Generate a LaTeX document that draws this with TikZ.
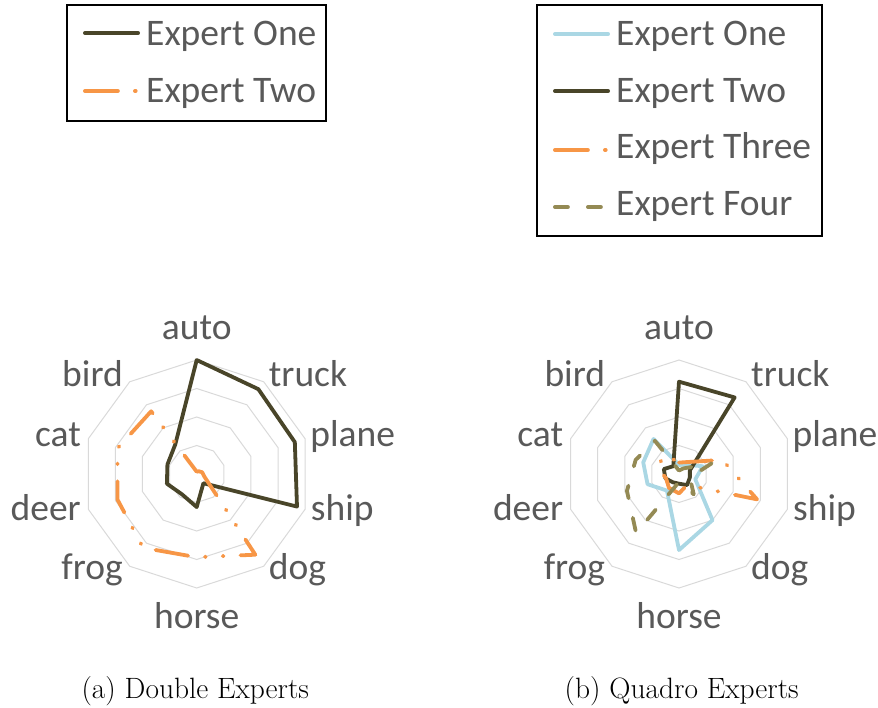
\documentclass[tikz,border=0pt]{standalone}
\usepackage{fontspec}
\newfontfamily\calib{Carlito}
\usetikzlibrary{calc}
\definecolor{expdark}{RGB}{73,69,41}
\definecolor{exporange}{RGB}{247,150,70}
\definecolor{expblue}{RGB}{170,215,228}
\definecolor{expolive}{RGB}{148,138,84}
\definecolor{gridgray}{RGB}{217,217,217}
\definecolor{labelgray}{RGB}{89,89,89}

% one radar series: name, style, ten values (auto, truck, plane, ship, dog, horse, frog, deer, cat, bird)
\newcommand\radarseries[3]{%
  \foreach \v [count=\i from 0] in {#3}
    \coordinate (#1-\i) at ({90-36*\i}:{\v*114pt});
  \draw[#2] (#1-0) \foreach \i in {1,...,9} { -- (#1-\i) } -- cycle;
}
% grid rings and category labels of one radar chart
\newcommand\radarframe[1]{%
  \foreach \k in {1,2,3,4}
    \draw[gridring] (90:{\k*28.5pt}) \foreach \i in {1,...,9} { -- ({90-36*\i}:{\k*28.5pt}) } -- cycle;
  \node[lbl, anchor=base]      (#1-auto)  at (0,-135)      {auto};
  \node[lbl, anchor=base west] (#1-truck) at (72,-88)      {truck};
  \node[lbl, anchor=base west] (#1-plane) at (113.5,-27.3) {plane};
  \node[lbl, anchor=base west] (#1-ship)  at (114,46)      {ship};
  \node[lbl, anchor=base west] (#1-dog)   at (72,105)      {dog};
  \node[lbl, anchor=base]      (#1-horse) at (0,154)       {horse};
  \node[lbl, anchor=base east] (#1-frog)  at (-73.7,105)   {frog};
  \node[lbl, anchor=base east] (#1-deer)  at (-115.7,46)   {deer};
  \node[lbl, anchor=base east] (#1-cat)   at (-115.7,-27.3){cat};
  \node[lbl, anchor=base east] (#1-bird)  at (-73.7,-88)   {bird};
}

\begin{document}
\begin{tikzpicture}[x=1pt,y=-1pt,
  lbl/.style={font={\calib\fontsize{37.5}{45}\selectfont}, text=labelgray, inner sep=0pt},
  captxt/.style={font={\fontsize{29.4}{35}\selectfont}, inner sep=0pt, anchor=base},
  gridring/.style={draw=gridgray, line width=1pt},
  legbox/.style={draw=black, line width=1.3pt, inner sep=0pt},
  sdark/.style={draw=expdark, line width=3.8pt, line join=round, line cap=round},
  sblue/.style={draw=expblue, line width=3.8pt, line join=round, line cap=round},
  sorange/.style={draw=exporange, line width=3.8pt, line join=round, line cap=round,
    dash pattern=on 33pt off 17pt on 0.8pt off 17pt on 0.8pt off 17pt},
  solive/.style={draw=expolive, line width=3.8pt, line join=round, line cap=round,
    dash pattern=on 13pt off 20pt},
]
\useasboundingbox (0,0) rectangle (878,707);

% ---------- legend of the two-expert chart ----------
\node[legbox, minimum width=259pt, minimum height=116pt] (legA) at (196.5,63) {};
\coordinate (la1s) at (84.9,33);  \coordinate (la1e) at (138.1,33);
\coordinate (la2s) at (84.9,91);  \coordinate (la2e) at (138.1,91);
\draw[sdark]   (la1s) -- (la1e);
\draw[sorange] (la2s) -- (la2e);
\node[lbl, anchor=base west] (la1t) at (146,45)  {Expert One};
\node[lbl, anchor=base west] (la2t) at (146,102) {Expert Two};

% ---------- legend of the four-expert chart ----------
\node[legbox, minimum width=285pt, minimum height=231pt] (legB) at (679.5,120.5) {};
\coordinate (lb1s) at (554.9,34);  \coordinate (lb1e) at (608.1,34);
\coordinate (lb2s) at (554.9,91);  \coordinate (lb2e) at (608.1,91);
\coordinate (lb3s) at (554.9,150); \coordinate (lb3e) at (608.1,150);
\coordinate (lb4s) at (554.9,207); \coordinate (lb4e) at (608.1,207);
\draw[sblue]   (lb1s) -- (lb1e);
\draw[sdark]   (lb2s) -- (lb2e);
\draw[sorange] (lb3s) -- (lb3e);
\draw[solive]  (lb4s) -- (lb4e);
\node[lbl, anchor=base west] (lb1t) at (616,45)    {Expert One};
\node[lbl, anchor=base west] (lb2t) at (616,102)   {Expert Two};
\node[lbl, anchor=base west] (lb3t) at (616,158.5) {Expert Three};
\node[lbl, anchor=base west] (lb4t) at (616,215)   {Expert Four};

% ---------- radar chart: double experts ----------
\begin{scope}[shift={(196.7,474)}]
  \radarframe{A}
  \radarseries{Aone}{sdark}{1.0,0.92,0.905,0.925,0.10,0.29,0.22,0.275,0.27,0.32}
  \radarseries{Atwo}{sorange}{0.02,0.03,0.05,0.07,0.875,0.73,0.80,0.73,0.73,0.68}
\end{scope}

% ---------- radar chart: quadro experts ----------
\begin{scope}[shift={(679,474)}]
  \radarframe{B}
  \radarseries{Bone}{sblue}{0.08,0.10,0.22,0.15,0.50,0.667,0.18,0.29,0.33,0.38}
  \radarseries{Btwo}{sdark}{0.81,0.83,0.10,0.10,0.12,0.085,0.09,0.125,0.14,0.085}
  \radarseries{Bthree}{sorange}{0.10,0.13,0.40,0.72,0.12,0.17,0.15,0.12,0.20,0.21}
  \radarseries{Bfour}{solive}{0.03,0.06,0.30,0.10,0.22,0.07,0.64,0.48,0.40,0.36}
\end{scope}

% ---------- captions ----------
\node[captxt] (capA) at (195.3,698) {(a) Double Experts};
\node[captxt] (capB) at (681.7,698) {(b) Quadro Experts};
\end{tikzpicture}
\end{document}
